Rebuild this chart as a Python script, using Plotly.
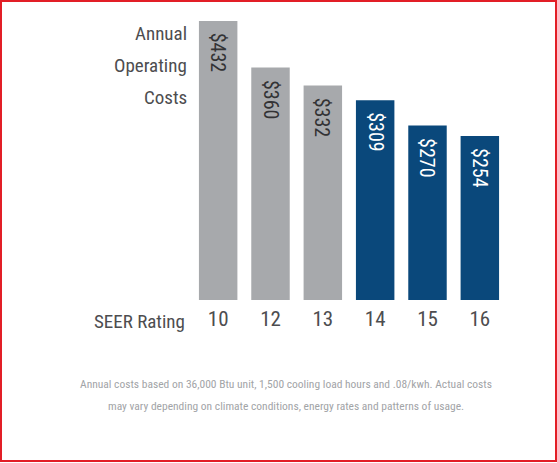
import plotly.graph_objects as go

seer = ["10", "12", "13", "14", "15", "16"]
costs = [432, 360, 332, 309, 270, 254]
labels = ["$432", "$360", "$332", "$309", "$270", "$254"]
bar_colors = ["#a7a9ac", "#a7a9ac", "#a7a9ac", "#0a487b", "#0a487b", "#0a487b"]
text_colors = ["#333335", "#333335", "#333335", "#ffffff", "#ffffff", "#ffffff"]
title_lines = ["Annual", "Operating", "Costs"]
title_y = [33.5, 65.5, 97.5]
x_title = "SEER Rating"
footnote_lines = ["Annual costs based on 36,000 Btu unit, 1,500 cooling load hours and .08/kwh. Actual costs",
                  "may vary depending on climate conditions, energy rates and patterns of usage."]
footnote_y = [383.5, 406]

W, H = 557, 463
L, R, T, B = 192, 506, 18, 300
FONT = "Roboto Condensed, DejaVu Sans Condensed, sans-serif"
DARK = "#4d4d4f"


def px(x):
    return (x - L) / (R - L)


def py(y):
    return (B - y) / (B - T)


fig = go.Figure(go.Bar(
    x=seer, y=costs, marker=dict(color=bar_colors, line=dict(width=0)),
    hoverinfo="skip", width=0.735,
))

for i, (c, lab, tc) in enumerate(zip(costs, labels, text_colors)):
    fig.add_annotation(x=i, y=c, text=lab, textangle=90, showarrow=False,
                       xanchor="center", yanchor="top", yshift=-10,
                       font=dict(family=FONT, size=20, color=tc))

fig.add_annotation(xref="paper", yref="paper", x=px(187), y=py(321), text=x_title,
                   showarrow=False, xanchor="right", yanchor="middle",
                   font=dict(family=FONT, size=19, color=DARK))
for line, yy in zip(title_lines, title_y):
    fig.add_annotation(xref="paper", yref="paper", x=px(189), y=py(yy),
                       text=line, showarrow=False, xanchor="right", yanchor="middle",
                       font=dict(family=FONT, size=19, color=DARK))
for line, yy in zip(footnote_lines, footnote_y):
    fig.add_annotation(xref="paper", yref="paper", x=px(286), y=py(yy),
                       text=line, showarrow=False, xanchor="center", yanchor="middle",
                       font=dict(family=FONT, size=11.5, color="#a2a4a7"))

fig.add_shape(type="rect", xref="paper", yref="paper",
              x0=px(1), x1=px(556), y0=py(1), y1=py(461),
              line=dict(color="#e21e26", width=2), layer="above")

fig.update_layout(
    width=W, height=H,
    margin=dict(l=L, r=W - R, t=T, b=H - B, pad=0),
    paper_bgcolor="white", plot_bgcolor="white",
    showlegend=False, bargap=0.265,
    xaxis=dict(type="category", range=[-0.5, len(seer) - 0.5], showgrid=False, zeroline=False,
               showline=False, ticks="", ticklabelstandoff=4,
               tickfont=dict(family=FONT, size=21, color=DARK), fixedrange=True),
    yaxis=dict(range=[0, 436.5], visible=False, fixedrange=True),
)

fig.write_html("out.html", config={"displayModeBar": False},
               post_script="document.body.style.margin='0';")
